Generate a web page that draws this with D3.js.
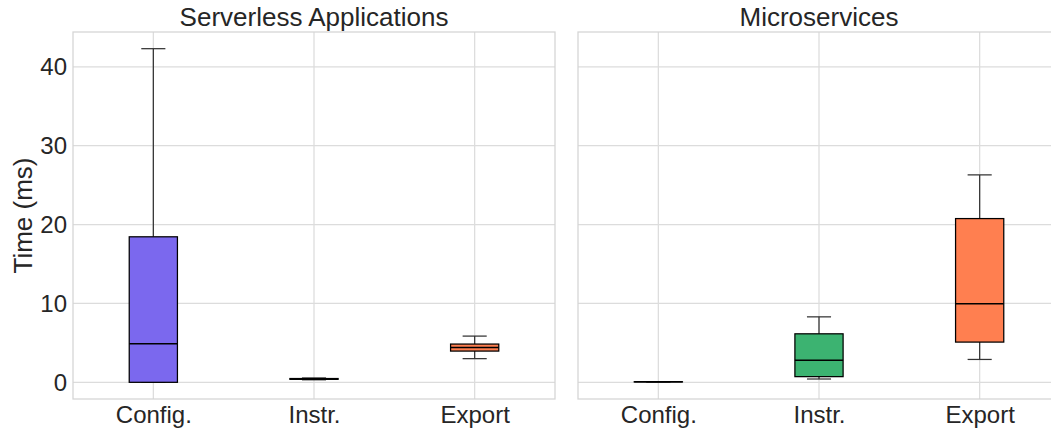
<!DOCTYPE html>
<html>
<head>
<meta charset="utf-8">
<script src="https://cdn.jsdelivr.net/npm/d3@7"></script>
<style>
  html, body { margin: 0; padding: 0; background: #fff; }
  svg { display: block; font-family: "Liberation Sans", Arial, sans-serif; }
</style>
</head>
<body>
<svg id="chart" width="1051" height="432"></svg>
<script>
// Categories and panels
const categories = ["Config.", "Instr.", "Export"];
const panelTitles = ["Serverless Applications", "Microservices"];
const boxColors = ["#7B68EE", "#3CB371", "#FF7F50"];
const yTicks = [0, 10, 20, 30, 40];

// Box statistics per category: [lower whisker, Q1, median, Q3, upper whisker] (ms)
const serverlessStats = [
  [0.0, 0.0, 4.9, 18.45, 42.3],
  [0.32, 0.38, 0.43, 0.48, 0.55],
  [3.0, 3.96, 4.43, 4.85, 5.86]
];
const microservicesStats = [
  [0.04, 0.05, 0.06, 0.07, 0.08],
  [0.42, 0.72, 2.8, 6.15, 8.3],
  [2.9, 5.1, 9.96, 20.76, 26.3]
];
const panelStats = [serverlessStats, microservicesStats];

const svg = d3.select("#chart");
const panelLeft = [73, 578];
const panelWidth = 482;
const plotTop = 32, plotBottom = 399;

const y = d3.scaleLinear().domain([-2.115, 44.415]).range([plotBottom, plotTop]);
const gridColor = "#dcdcdc";
const textColor = "#262626";
const tickFont = 24, titleFont = 26;

const defs = svg.append("defs");

panelStats.forEach((stats, p) => {
  const g = svg.append("g").attr("transform", `translate(${panelLeft[p]},0)`);
  const x = d3.scalePoint().domain(categories).range([0, panelWidth]).padding(0.5);
  const step = x.step();
  const boxW = step * 0.3, capW = step * 0.15;

  defs.append("clipPath").attr("id", "clip" + p)
    .append("rect").attr("x", 0).attr("y", plotTop).attr("width", panelWidth).attr("height", plotBottom - plotTop);

  // grid
  g.append("g").selectAll("line").data(yTicks).join("line")
    .attr("x1", 0).attr("x2", panelWidth)
    .attr("y1", d => y(d)).attr("y2", d => y(d))
    .attr("stroke", gridColor).attr("stroke-width", 1.25);
  g.append("g").selectAll("line").data(categories).join("line")
    .attr("x1", d => x(d)).attr("x2", d => x(d))
    .attr("y1", plotTop).attr("y2", plotBottom)
    .attr("stroke", gridColor).attr("stroke-width", 1.25);

  // frame
  g.append("rect").attr("x", 0).attr("y", plotTop).attr("width", panelWidth).attr("height", plotBottom - plotTop)
    .attr("fill", "none").attr("stroke", "#d4d4d4").attr("stroke-width", 1.25);

  // boxes
  const boxes = g.append("g").attr("clip-path", `url(#clip${p})`)
    .selectAll("g").data(stats.map((s, i) => ({ s, cat: categories[i], i }))).join("g");

  boxes.append("line")
    .attr("x1", d => x(d.cat)).attr("x2", d => x(d.cat))
    .attr("y1", d => y(d.s[3])).attr("y2", d => y(d.s[4]))
    .attr("stroke", "#333").attr("stroke-width", 1.25);
  boxes.append("line")
    .attr("x1", d => x(d.cat)).attr("x2", d => x(d.cat))
    .attr("y1", d => y(d.s[0])).attr("y2", d => y(d.s[1]))
    .attr("stroke", "#333").attr("stroke-width", 1.25);
  boxes.append("line")
    .attr("x1", d => x(d.cat) - capW / 2).attr("x2", d => x(d.cat) + capW / 2)
    .attr("y1", d => y(d.s[4])).attr("y2", d => y(d.s[4]))
    .attr("stroke", "#333").attr("stroke-width", 1.25);
  boxes.append("line")
    .attr("x1", d => x(d.cat) - capW / 2).attr("x2", d => x(d.cat) + capW / 2)
    .attr("y1", d => y(d.s[0])).attr("y2", d => y(d.s[0]))
    .attr("stroke", "#333").attr("stroke-width", 1.25);
  boxes.append("rect")
    .attr("x", d => x(d.cat) - boxW / 2).attr("width", boxW)
    .attr("y", d => y(d.s[3])).attr("height", d => y(d.s[1]) - y(d.s[3]))
    .attr("fill", d => boxColors[d.i]).attr("stroke", "#000").attr("stroke-width", 1.25);
  boxes.append("line")
    .attr("x1", d => x(d.cat) - boxW / 2).attr("x2", d => x(d.cat) + boxW / 2)
    .attr("y1", d => y(d.s[2])).attr("y2", d => y(d.s[2]))
    .attr("stroke", "#000").attr("stroke-width", 1.5);

  // x axis
  const xAxis = g.append("g").attr("transform", `translate(0,${plotBottom})`)
    .call(d3.axisBottom(x).tickSize(0).tickPadding(7));
  xAxis.select(".domain").remove();
  xAxis.selectAll("text").attr("font-size", tickFont).attr("fill", textColor)
    .attr("font-family", "Liberation Sans, Arial, sans-serif");

  // y axis (only labelled on the first panel)
  if (p === 0) {
    const yAxis = g.append("g").call(d3.axisLeft(y).tickValues(yTicks).tickSize(0).tickPadding(6));
    yAxis.select(".domain").remove();
    yAxis.selectAll("text").attr("font-size", tickFont).attr("fill", textColor)
      .attr("font-family", "Liberation Sans, Arial, sans-serif");
  }

  // title
  g.append("text").attr("x", panelWidth / 2).attr("y", 26)
    .attr("text-anchor", "middle").attr("font-size", titleFont).attr("fill", textColor)
    .text(panelTitles[p]);
});

// y label
svg.append("text")
  .attr("transform", `translate(32,${(plotTop + plotBottom) / 2}) rotate(-90)`)
  .attr("text-anchor", "middle").attr("font-size", titleFont).attr("fill", textColor)
  .text("Time (ms)");
</script>
</body>
</html>
